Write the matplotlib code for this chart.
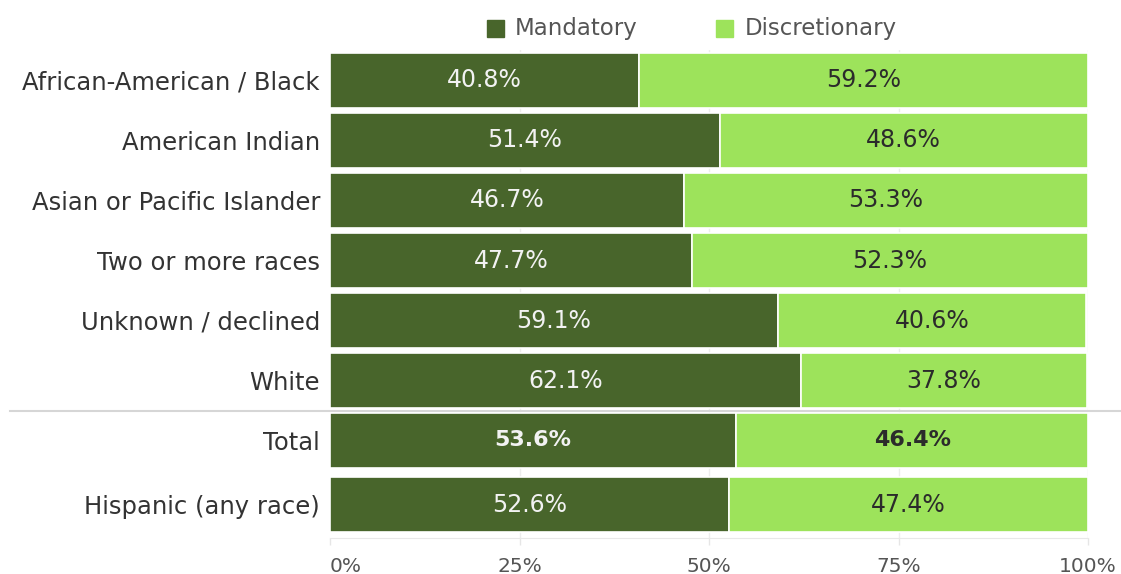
import matplotlib
matplotlib.use("Agg")
import matplotlib.pyplot as plt
from matplotlib.lines import Line2D

# Share of cases by race/ethnicity, mandatory vs discretionary
categories = ["African-American / Black", "American Indian", "Asian or Pacific Islander",
              "Two or more races", "Unknown / declined", "White", "Total",
              "Hispanic (any race)"]
mandatory = [40.8, 51.4, 46.7, 47.7, 59.1, 62.1, 53.6, 52.6]
discretionary = [59.2, 48.6, 53.3, 52.3, 40.6, 37.8, 46.4, 47.4]
ticks = [0, 25, 50, 75, 100]
tick_labels = ["0%", "25%", "50%", "75%", "100%"]

DARK = "#48652b"
LIGHT = "#9de35b"
plt.rcParams["font.family"] = ["DejaVu Sans"]

W, H = 1121, 574
PT = 72 / 100  # points per pixel at dpi 100
fig = plt.figure(figsize=(W / 100, H / 100), dpi=100)
fig.patch.set_facecolor("white")

# axes spans 0..100% horizontally, 60px per row vertically
x0, x1 = 330, 1088
ytop, ybot = 50, 538
row0 = 80.5
ax = fig.add_axes([x0 / W, 1 - ybot / H, (x1 - x0) / W, (ybot - ytop) / H])

# rows: first seven 1 unit apart, Hispanic sits in its own pane below Total
ypos = [0, 1, 2, 3, 4, 5, 6, 7.067]
ax.set_ylim((ybot - row0) / 60, (ytop - row0) / 60)
ax.set_xlim(0, 100)

for t in ticks[1:]:
    ax.axvline(t, color="#ededed", lw=1, zorder=0)

bh = 0.93
ax.barh(ypos, mandatory, height=bh, color=DARK, edgecolor="white", lw=1.2, zorder=2)
ax.barh(ypos, discretionary, left=mandatory, height=bh, color=LIGHT,
        edgecolor="white", lw=1.2, zorder=2)

for i, (y, m, d) in enumerate(zip(ypos, mandatory, discretionary)):
    if categories[i] == "Total":
        kw = dict(fontsize=16, fontweight="bold")
    else:
        kw = dict(fontsize=17)
    ax.text(m / 2, y, f"{m:.1f}%", ha="center", va="center", color="#f2f2f2",
            zorder=3, **kw)
    ax.text(m + d / 2, y, f"{d:.1f}%", ha="center", va="center", color="#2b2b2b",
            zorder=3, **kw)

ax.set_yticks(ypos)
ax.set_yticklabels(categories, fontsize=17.5, color="#333333")
ax.tick_params(axis="y", length=0, pad=10 * PT)

ax.set_xticks(ticks)
ax.set_xticklabels(tick_labels, fontsize=14.5, color="#555555")
ax.tick_params(axis="x", length=7 * PT, width=1, color="#e6e6e6", pad=12 * PT)
labs = ax.get_xticklabels()
labs[0].set_ha("left")
labs[0].set_x(0.4)

for s in ["top", "right", "left"]:
    ax.spines[s].set_visible(False)
ax.spines["bottom"].set_color("#e8e8e8")

# divider between the race rows and the summary rows
fig.add_artist(Line2D([10 / W, 1], [1 - 411 / H, 1 - 411 / H], color="#d6d6d6", lw=1.5))

# legend across the top
sq = 17
for sx, tx, col, name in [(487, 515, DARK, "Mandatory"), (716, 745, LIGHT, "Discretionary")]:
    fig.add_artist(plt.Rectangle((sx / W, 1 - 36.5 / H), sq / W, sq / H, color=col,
                                 transform=fig.transFigure))
    fig.text(tx / W, 1 - 28 / H, name, fontsize=16.5, color="#555555", va="center")

fig.savefig("out.png", dpi=100, facecolor="white")
